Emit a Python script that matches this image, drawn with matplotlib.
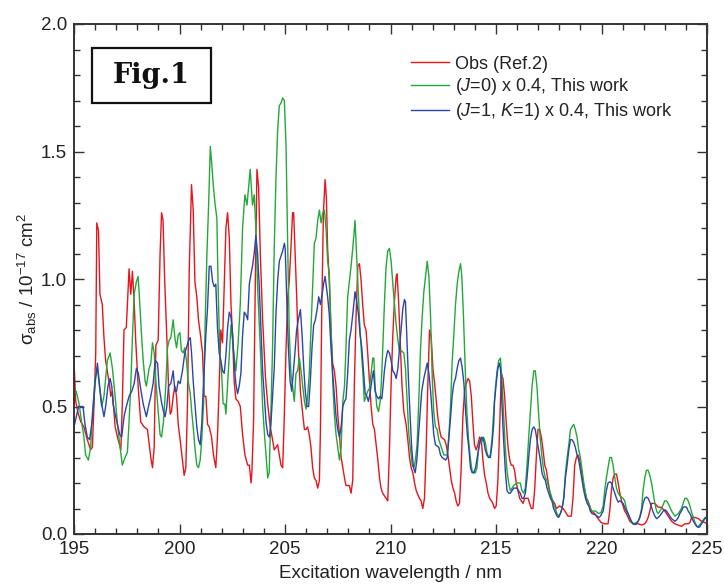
import matplotlib
matplotlib.use("Agg")
import matplotlib.pyplot as plt
from matplotlib.patches import Rectangle
from matplotlib.ticker import MultipleLocator

plt.rcParams['font.family'] = ['Liberation Sans', 'DejaVu Sans']
plt.rcParams['mathtext.fontset'] = 'custom'
plt.rcParams['mathtext.rm'] = 'Liberation Sans'
plt.rcParams['mathtext.it'] = 'Liberation Sans:italic'

# ---------------- data ----------------
obs_wl = [195.00,195.08,195.21,195.32,195.47,195.63,195.79,195.87,195.95,196.03,
          196.08,196.16,196.23,196.34,196.42,196.50,196.69,196.74,196.82,196.95,
          197.06,197.22,197.29,197.37,197.48,197.61,197.69,197.77,197.85,197.93,
          198.04,198.16,198.32,198.48,198.64,198.72,198.80,198.88,198.99,199.08,
          199.15,199.22,199.30,199.40,199.48,199.56,199.62,199.70,199.78,199.86,
          199.94,200.03,200.14,200.22,200.30,200.38,200.46,200.57,200.65,200.73,
          200.82,200.90,201.01,201.09,201.17,201.25,201.33,201.41,201.52,201.61,
          201.72,201.80,201.88,201.96,202.04,202.12,202.20,202.28,202.36,202.44,
          202.52,202.59,202.67,202.78,202.88,202.99,203.10,203.23,203.31,203.39,
          203.43,203.51,203.59,203.67,203.75,203.83,203.94,204.07,204.18,204.30,
          204.41,204.49,204.57,204.65,204.73,204.81,204.89,204.97,205.05,205.13,
          205.20,205.28,205.36,205.41,205.47,205.55,205.63,205.73,205.84,205.92,
          206.00,206.07,206.15,206.23,206.31,206.39,206.47,206.55,206.63,206.68,
          206.74,206.82,206.90,206.96,207.02,207.10,207.18,207.26,207.34,207.42,
          207.50,207.58,207.66,207.74,207.82,207.89,208.05,208.13,208.21,208.29,
          208.37,208.45,208.53,208.61,208.69,208.76,208.84,208.92,209.00,209.08,
          209.16,209.24,209.32,209.40,209.48,209.55,209.63,209.79,209.87,209.95,
          210.03,210.11,210.19,210.27,210.31,210.38,210.46,210.54,210.63,210.74,
          210.82,210.90,210.98,211.06,211.14,211.22,211.37,211.45,211.53,211.61,
          211.69,211.77,211.85,211.93,212.01,212.09,212.17,212.24,212.32,212.40,
          212.56,212.64,212.72,212.80,212.88,212.96,213.04,213.11,213.19,213.27,
          213.35,213.43,213.51,213.59,213.67,213.75,213.83,213.91,213.98,214.06,
          214.14,214.22,214.30,214.38,214.46,214.54,214.62,214.70,214.78,214.85,
          214.93,215.01,215.09,215.17,215.25,215.33,215.41,215.49,215.57,215.65,
          215.72,215.80,215.88,215.96,216.04,216.12,216.20,216.28,216.36,216.52,
          216.67,216.75,216.83,216.91,216.99,217.07,217.15,217.23,217.31,217.39,
          217.46,217.54,217.62,217.70,217.78,217.86,218.02,218.18,218.26,218.34,
          218.41,218.57,218.65,218.73,218.81,218.89,218.97,219.05,219.13,219.21,
          219.29,219.36,219.52,219.68,219.84,219.98,220.15,220.31,220.39,220.47,
          220.55,220.63,220.71,220.79,220.87,220.95,221.02,221.10,221.18,221.26,
          221.34,221.50,221.74,221.90,222.05,222.13,222.21,222.29,222.37,222.53,
          222.69,222.84,223.00,223.16,223.32,223.48,223.64,223.79,223.95,224.11,
          224.19,224.27,224.43,224.59,224.74,224.90,225.00]
obs_abs = [0.68,0.52,0.47,0.44,0.42,0.37,0.33,0.34,0.51,0.71,
           1.22,1.19,0.94,0.90,0.77,0.68,0.58,0.54,0.56,0.42,
           0.38,0.33,0.51,0.80,0.81,1.04,0.94,1.03,0.91,0.75,
           0.58,0.44,0.42,0.41,0.30,0.26,0.34,0.74,0.76,1.10,
           1.26,1.23,0.99,0.77,0.58,0.47,0.48,0.54,0.58,0.54,
           0.43,0.37,0.29,0.23,0.26,0.51,1.03,1.37,1.27,0.99,
           0.93,0.84,0.77,0.71,0.54,0.54,0.43,0.42,0.38,0.31,
           0.26,0.38,0.58,0.80,0.75,0.97,1.20,1.26,1.16,0.90,
           0.77,0.60,0.53,0.52,0.50,0.39,0.31,0.27,0.27,0.20,
           0.24,0.44,0.97,1.43,1.36,1.10,0.84,0.62,0.51,0.42,
           0.37,0.33,0.34,0.35,0.31,0.27,0.26,0.47,0.73,0.93,
           0.99,1.12,1.26,1.26,1.12,0.94,0.73,0.56,0.47,0.41,
           0.41,0.42,0.39,0.34,0.26,0.22,0.21,0.18,0.21,0.41,
           0.86,1.26,1.39,1.32,1.12,0.99,0.80,0.67,0.64,0.58,
           0.47,0.39,0.30,0.26,0.22,0.19,0.19,0.16,0.21,0.60,
           0.86,1.05,1.06,0.99,0.89,0.82,0.80,0.71,0.60,0.50,
           0.43,0.41,0.35,0.29,0.22,0.18,0.16,0.14,0.13,0.33,
           0.59,0.78,0.92,1.01,1.02,0.92,0.75,0.59,0.48,0.43,
           0.37,0.30,0.26,0.24,0.20,0.17,0.14,0.13,0.10,0.14,
           0.33,0.59,0.80,0.77,0.65,0.59,0.52,0.46,0.41,0.38,
           0.37,0.35,0.31,0.26,0.21,0.18,0.16,0.13,0.11,0.12,
           0.26,0.46,0.56,0.59,0.61,0.60,0.54,0.43,0.35,0.33,
           0.35,0.38,0.37,0.29,0.23,0.20,0.16,0.14,0.13,0.12,
           0.10,0.11,0.21,0.41,0.63,0.61,0.54,0.43,0.34,0.29,
           0.27,0.27,0.25,0.20,0.17,0.14,0.13,0.12,0.14,0.14,
           0.10,0.10,0.17,0.30,0.41,0.41,0.38,0.33,0.27,0.25,
           0.21,0.17,0.14,0.13,0.12,0.10,0.11,0.10,0.09,0.08,
           0.07,0.07,0.14,0.27,0.30,0.31,0.29,0.25,0.20,0.17,
           0.14,0.13,0.09,0.08,0.06,0.045,0.04,0.04,0.09,0.17,
           0.22,0.235,0.235,0.20,0.16,0.13,0.11,0.09,0.08,0.065,
           0.05,0.04,0.04,0.035,0.04,0.05,0.065,0.09,0.12,0.12,
           0.105,0.105,0.09,0.07,0.05,0.04,0.035,0.03,0.04,0.04,
           0.045,0.065,0.065,0.06,0.05,0.045,0.04]

j0_wl = [195.00,195.11,195.24,195.36,195.47,195.55,195.68,195.79,195.87,196.00,
         196.11,196.19,196.31,196.42,196.58,196.71,196.82,196.95,197.06,197.14,
         197.29,197.42,197.53,197.61,197.69,197.77,197.85,197.96,198.04,198.12,
         198.20,198.28,198.37,198.43,198.56,198.64,198.72,198.80,198.88,198.99,
         199.08,199.15,199.24,199.35,199.43,199.51,199.59,199.70,199.78,199.86,
         199.94,200.02,200.09,200.17,200.25,200.33,200.41,200.51,200.58,200.66,
         200.74,200.82,200.90,200.98,201.06,201.14,201.22,201.30,201.38,201.46,
         201.53,201.61,201.69,201.77,201.83,201.91,201.99,202.07,202.15,202.20,
         202.31,202.44,202.56,202.67,202.78,202.88,202.99,203.10,203.20,203.35,
         203.46,203.54,203.62,203.70,203.83,203.94,204.02,204.10,204.18,204.25,
         204.33,204.41,204.49,204.57,204.65,204.73,204.81,204.89,204.97,205.05,
         205.13,205.20,205.28,205.36,205.44,205.52,205.60,205.68,205.76,205.84,
         205.92,206.00,206.07,206.15,206.23,206.31,206.39,206.47,206.55,206.63,
         206.71,206.79,206.87,206.95,207.02,207.10,207.18,207.26,207.34,207.42,
         207.50,207.58,207.66,207.74,207.82,207.89,207.97,208.05,208.13,208.21,
         208.32,208.38,208.45,208.53,208.61,208.69,208.76,208.84,208.92,209.00,
         209.08,209.16,209.21,209.27,209.35,209.43,209.51,209.57,209.63,209.71,
         209.79,209.87,209.95,210.03,210.11,210.19,210.27,210.35,210.42,210.50,
         210.63,210.71,210.79,210.87,210.95,211.03,211.11,211.18,211.26,211.34,
         211.42,211.50,211.58,211.66,211.74,211.82,211.90,211.98,212.05,212.13,
         212.21,212.29,212.37,212.45,212.53,212.61,212.69,212.77,212.85,212.92,
         213.00,213.08,213.16,213.24,213.32,213.38,213.46,213.54,213.62,213.70,
         213.78,213.86,213.94,214.02,214.10,214.17,214.25,214.33,214.41,214.49,
         214.57,214.65,214.73,214.81,214.89,214.97,215.05,215.13,215.21,215.28,
         215.36,215.44,215.52,215.60,215.68,215.76,215.84,215.99,216.07,216.15,
         216.23,216.31,216.39,216.47,216.55,216.63,216.71,216.79,216.86,216.94,
         217.02,217.10,217.18,217.26,217.34,217.42,217.50,217.58,217.65,217.73,
         217.81,217.89,217.97,218.05,218.13,218.21,218.29,218.37,218.45,218.53,
         218.60,218.68,218.76,218.84,218.92,219.00,219.08,219.16,219.24,219.32,
         219.40,219.47,219.55,219.71,219.87,219.98,220.08,220.15,220.23,220.31,
         220.39,220.47,220.55,220.63,220.71,220.79,220.87,221.02,221.10,221.18,
         221.26,221.34,221.42,221.50,221.66,221.74,221.82,221.90,221.97,222.05,
         222.13,222.21,222.29,222.37,222.45,222.53,222.61,222.69,222.84,223.00,
         223.08,223.16,223.32,223.48,223.64,223.79,223.95,224.03,224.11,224.19,
         224.27,224.35,224.43,224.51,224.59,224.74,224.90,225.00]
j0_abs = [0.55,0.56,0.51,0.44,0.38,0.31,0.29,0.34,0.47,0.61,
          0.65,0.59,0.50,0.54,0.68,0.71,0.65,0.54,0.43,0.37,
          0.27,0.30,0.32,0.44,0.58,0.77,0.94,0.99,1.01,0.90,
          0.78,0.68,0.60,0.58,0.65,0.67,0.75,0.71,0.60,0.48,
          0.39,0.38,0.44,0.58,0.73,0.76,0.77,0.84,0.77,0.73,
          0.78,0.79,0.72,0.71,0.73,0.68,0.60,0.55,0.48,0.41,
          0.33,0.27,0.26,0.29,0.38,0.51,0.84,1.10,1.29,1.52,
          1.45,1.36,1.29,1.24,0.97,0.71,0.64,0.51,0.51,0.47,
          0.63,0.82,0.72,0.64,0.75,0.90,1.20,1.33,1.29,1.43,
          1.29,1.33,1.20,0.97,0.73,0.50,0.40,0.31,0.22,0.24,
          0.47,0.73,1.12,1.39,1.58,1.68,1.69,1.71,1.70,1.52,
          1.12,0.80,0.63,0.58,0.52,0.63,0.64,0.69,0.64,0.58,
          0.52,0.49,0.54,0.63,0.80,0.97,1.14,1.16,1.23,1.27,
          1.22,1.26,1.27,1.19,1.07,1.02,0.80,0.60,0.47,0.39,
          0.34,0.29,0.34,0.52,0.58,0.73,0.93,0.99,1.05,1.12,
          1.23,1.12,0.99,0.84,0.73,0.63,0.52,0.54,0.56,0.57,
          0.63,0.69,0.69,0.58,0.50,0.48,0.52,0.60,0.72,0.90,
          1.05,1.11,1.12,1.07,0.98,0.90,0.82,0.76,0.72,0.72,
          0.71,0.65,0.52,0.39,0.33,0.27,0.26,0.29,0.35,0.52,
          0.72,0.85,0.95,1.01,1.07,1.01,0.85,0.61,0.48,0.42,
          0.41,0.37,0.35,0.33,0.31,0.31,0.31,0.39,0.51,0.67,
          0.78,0.90,0.98,1.03,1.06,1.01,0.85,0.65,0.48,0.37,
          0.30,0.25,0.24,0.24,0.26,0.33,0.37,0.36,0.38,0.36,
          0.32,0.30,0.31,0.37,0.48,0.57,0.64,0.68,0.69,0.61,
          0.47,0.34,0.25,0.20,0.17,0.18,0.19,0.20,0.20,0.20,
          0.17,0.16,0.18,0.27,0.38,0.48,0.58,0.64,0.64,0.58,
          0.47,0.37,0.30,0.25,0.22,0.21,0.18,0.16,0.14,0.12,
          0.10,0.08,0.07,0.08,0.10,0.14,0.24,0.30,0.35,0.41,
          0.42,0.43,0.41,0.38,0.33,0.30,0.25,0.20,0.16,0.13,
          0.12,0.10,0.09,0.09,0.08,0.085,0.11,0.17,0.22,0.26,
          0.30,0.30,0.27,0.22,0.18,0.16,0.15,0.14,0.13,0.10,
          0.08,0.06,0.045,0.04,0.045,0.05,0.07,0.10,0.17,0.22,
          0.25,0.25,0.23,0.20,0.16,0.12,0.09,0.08,0.10,0.13,
          0.13,0.12,0.09,0.07,0.08,0.10,0.14,0.14,0.13,0.11,
          0.085,0.065,0.045,0.03,0.03,0.045,0.065,0.065]

j1_wl = [195.00,195.11,195.21,195.32,195.43,195.52,195.63,195.74,195.87,196.00,
         196.11,196.19,196.31,196.42,196.50,196.61,196.71,196.79,196.85,196.95,
         197.06,197.17,197.26,197.37,197.48,197.61,197.74,197.85,197.96,198.05,
         198.16,198.28,198.37,198.43,198.53,198.64,198.75,198.85,198.96,199.03,
         199.14,199.24,199.32,199.40,199.48,199.59,199.70,199.78,199.86,199.94,
         200.03,200.14,200.25,200.33,200.43,200.51,200.57,200.65,200.73,200.82,
         200.90,200.98,201.06,201.14,201.25,201.33,201.41,201.49,201.57,201.64,
         201.72,201.80,201.88,201.96,202.04,202.12,202.20,202.28,202.36,202.44,
         202.52,202.59,202.67,202.75,202.83,202.91,202.99,203.07,203.15,203.23,
         203.31,203.39,203.46,203.54,203.62,203.70,203.78,203.86,203.94,204.02,
         204.10,204.18,204.26,204.33,204.41,204.49,204.57,204.65,204.73,204.81,
         204.89,204.97,205.01,205.08,205.16,205.24,205.32,205.39,205.47,205.55,
         205.63,205.73,205.81,205.89,205.96,206.04,206.12,206.20,206.28,206.36,
         206.44,206.52,206.60,206.68,206.76,206.83,206.90,206.96,207.02,207.10,
         207.18,207.26,207.34,207.42,207.50,207.58,207.66,207.74,207.82,207.89,
         207.97,208.05,208.13,208.21,208.32,208.40,208.48,208.56,208.64,208.72,
         208.80,208.88,208.95,209.03,209.11,209.19,209.27,209.35,209.43,209.51,
         209.59,209.67,209.71,209.79,209.87,209.95,210.03,210.11,210.19,210.27,
         210.35,210.42,210.50,210.58,210.66,210.71,210.77,210.85,210.93,211.01,
         211.09,211.17,211.25,211.33,211.41,211.48,211.58,211.66,211.74,211.82,
         211.90,211.98,212.05,212.13,212.29,212.37,212.45,212.61,212.69,212.77,
         212.85,212.92,213.00,213.08,213.16,213.24,213.32,213.40,213.48,213.56,
         213.64,213.72,213.79,213.87,213.95,214.03,214.11,214.19,214.27,214.33,
         214.41,214.49,214.57,214.65,214.73,214.81,214.89,214.93,215.01,215.09,
         215.17,215.22,215.28,215.36,215.44,215.52,215.60,215.68,215.76,215.84,
         215.91,215.99,216.07,216.15,216.23,216.31,216.39,216.47,216.55,216.63,
         216.71,216.79,216.86,216.94,217.02,217.10,217.18,217.26,217.34,217.42,
         217.50,217.58,217.65,217.73,217.81,217.89,217.97,218.05,218.13,218.21,
         218.29,218.37,218.45,218.53,218.60,218.68,218.76,218.84,218.92,219.00,
         219.08,219.16,219.24,219.32,219.40,219.47,219.55,219.71,219.87,219.95,
         220.08,220.15,220.23,220.31,220.39,220.47,220.55,220.63,220.71,220.79,
         220.87,220.95,221.02,221.10,221.18,221.26,221.34,221.42,221.50,221.58,
         221.66,221.74,221.82,221.90,221.97,222.05,222.13,222.21,222.29,222.37,
         222.45,222.53,222.61,222.69,222.77,222.84,222.92,223.00,223.08,223.16,
         223.24,223.32,223.48,223.56,223.64,223.71,223.79,223.87,223.95,224.03,
         224.11,224.19,224.27,224.35,224.43,224.51,224.59,224.66,224.74,224.82,
         224.90,225.00]
j1_abs = [0.42,0.46,0.50,0.50,0.50,0.43,0.38,0.37,0.45,0.59,
          0.67,0.60,0.51,0.46,0.50,0.58,0.61,0.58,0.51,0.47,
          0.43,0.39,0.38,0.46,0.50,0.54,0.56,0.59,0.65,0.63,
          0.57,0.51,0.48,0.46,0.50,0.54,0.59,0.68,0.67,0.58,
          0.52,0.48,0.46,0.50,0.58,0.59,0.64,0.56,0.56,0.60,
          0.59,0.64,0.71,0.73,0.76,0.77,0.71,0.60,0.51,0.42,
          0.37,0.35,0.44,0.60,0.78,0.89,1.05,1.05,0.99,0.97,
          0.98,0.81,0.71,0.68,0.64,0.63,0.70,0.81,0.87,0.85,
          0.78,0.67,0.59,0.55,0.58,0.63,0.78,0.87,0.86,0.84,
          0.98,1.02,1.05,1.10,1.17,1.10,0.97,0.81,0.64,0.54,
          0.44,0.39,0.38,0.43,0.54,0.65,0.86,0.99,1.07,1.09,
          1.11,1.14,1.12,0.93,0.73,0.60,0.56,0.63,0.71,0.80,
          0.84,0.88,0.78,0.65,0.56,0.50,0.50,0.60,0.73,0.82,
          0.84,0.88,0.93,0.90,0.94,0.98,1.01,0.97,0.93,0.86,
          0.73,0.63,0.54,0.46,0.41,0.38,0.42,0.50,0.52,0.53,
          0.63,0.76,0.80,0.86,0.95,0.91,0.86,0.78,0.73,0.64,
          0.55,0.54,0.52,0.55,0.60,0.64,0.56,0.54,0.53,0.54,
          0.53,0.60,0.64,0.69,0.72,0.71,0.68,0.64,0.63,0.61,
          0.65,0.72,0.80,0.88,0.92,0.91,0.78,0.61,0.46,0.33,
          0.26,0.24,0.29,0.39,0.48,0.56,0.61,0.64,0.67,0.63,
          0.56,0.47,0.39,0.35,0.34,0.31,0.30,0.29,0.30,0.38,
          0.46,0.54,0.59,0.61,0.65,0.68,0.69,0.65,0.59,0.48,
          0.39,0.33,0.26,0.24,0.24,0.26,0.30,0.34,0.37,0.38,
          0.37,0.33,0.31,0.30,0.30,0.35,0.43,0.52,0.59,0.65,
          0.67,0.64,0.51,0.37,0.25,0.17,0.16,0.16,0.17,0.18,
          0.18,0.18,0.17,0.16,0.14,0.14,0.16,0.22,0.30,0.37,
          0.41,0.42,0.41,0.37,0.33,0.29,0.24,0.22,0.21,0.18,
          0.16,0.14,0.13,0.10,0.085,0.07,0.065,0.08,0.10,0.14,
          0.22,0.27,0.33,0.37,0.37,0.36,0.34,0.31,0.29,0.25,
          0.21,0.17,0.14,0.12,0.11,0.09,0.08,0.075,0.065,0.07,
          0.09,0.13,0.17,0.20,0.205,0.20,0.18,0.16,0.14,0.125,
          0.13,0.125,0.12,0.105,0.09,0.08,0.065,0.05,0.04,0.037,
          0.04,0.05,0.065,0.09,0.12,0.14,0.145,0.14,0.125,0.105,
          0.085,0.07,0.06,0.065,0.072,0.08,0.09,0.095,0.09,0.08,
          0.07,0.06,0.05,0.055,0.065,0.08,0.09,0.105,0.107,0.105,
          0.09,0.08,0.065,0.05,0.04,0.03,0.026,0.028,0.04,0.05,
          0.06,0.065]

series_labels = ['Obs (Ref.2)',
                 '($\\it{J}$=0) x 0.4, This work',
                 '($\\it{J}$=1, $\\it{K}$=1) x 0.4, This work']
series_colors = ['#e8141c', '#23a838', '#2a46a8']

x_ticks = [195, 200, 205, 210, 215, 220, 225]
y_ticks = [0.0, 0.5, 1.0, 1.5, 2.0]

# ---------------- figure ----------------
fig = plt.figure(figsize=(7.24, 5.84), dpi=100)
ax = fig.add_axes([74/724, 1-534/584, (707-74)/724, (534-24)/584])

for wl, ab, lab, col in zip([obs_wl, j0_wl, j1_wl], [obs_abs, j0_abs, j1_abs],
                            series_labels, series_colors):
    ax.plot(wl, ab, color=col, lw=1.0, label=lab)

ax.set_xlim(195, 225)
ax.set_ylim(0, 2.0)
ax.set_xticks(x_ticks)
ax.set_yticks(y_ticks)
ax.set_yticklabels(['%.1f' % v for v in y_ticks])
ax.xaxis.set_minor_locator(MultipleLocator(1))
ax.yaxis.set_minor_locator(MultipleLocator(0.1))
ax.tick_params(which='both', direction='in', top=True, right=True,
               color='#333333', width=1.0, labelsize=13.5, labelcolor='#222222')
ax.tick_params(which='major', length=7.5, pad=5)
ax.tick_params(which='minor', length=4.5)
for s in ax.spines.values():
    s.set_linewidth(1.4)
    s.set_color('#333333')

ax.set_xlabel('Excitation wavelength / nm', fontsize=13.5, color='#222222', labelpad=5)
ax.set_ylabel('σ$_{\\mathregular{abs}}$ / 10$^{\\mathregular{-17}}$ cm$^{\\mathregular{2}}$',
              fontsize=13.5, color='#222222', labelpad=1.5)

leg = ax.legend(loc='upper left', bbox_to_anchor=(0.533, 0.938), frameon=False,
                fontsize=13, handlelength=2.1, handletextpad=0.3, labelspacing=0.2,
                borderpad=0, borderaxespad=0)
for t in leg.get_texts():
    t.set_color('#222222')

ax.add_patch(Rectangle((0.0285, 0.846), 0.188, 0.106, transform=ax.transAxes,
                       fill=False, lw=1.6, edgecolor='#111111', zorder=5))
ax.text(0.1225, 0.899, 'Fig.1', transform=ax.transAxes, ha='center', va='center',
        fontsize=19.5, fontweight='bold', family='DejaVu Serif', color='#111111')

fig.savefig('out.png', dpi=100)
